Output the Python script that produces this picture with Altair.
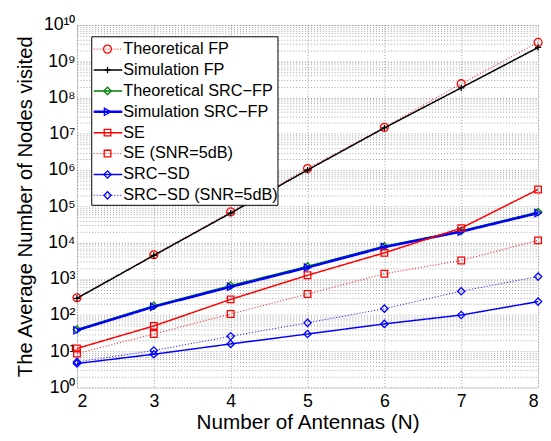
import altair as alt
import pandas as pd

N = [2, 3, 4, 5, 6, 7, 8]
theo_fp = [300, 4600, 70000, 1.1e6, 1.5e7, 2.4e8, 3.3e9]
sim_fp = [290, 4400, 65000, 1.0e6, 1.45e7, 1.85e8, 2.4e9]
theo_src_fp = [40, 180, 650, 2200, 7900, 2.1e4, 6.9e4]
sim_src_fp = [38, 170, 600, 2050, 7500, 2.0e4, 6.5e4]
se = [12, 50, 270, 1250, 5200, 2.5e4, 2.9e5]
se_5db = [8.7, 30, 107, 380, 1380, 3200, 1.15e4]
src_sd = [4.6, 8.3, 16, 30, 57, 100, 235]
src_sd_5db = [5.1, 10.5, 26, 61, 150, 455, 1150]

names = ["Theoretical FP", "Simulation FP", "Theoretical SRC\u2212FP",
         "Simulation SRC\u2212FP", "SE", "SE (SNR=5dB)", "SRC\u2212SD",
         "SRC\u2212SD (SNR=5dB)"]
series = [theo_fp, sim_fp, theo_src_fp, sim_src_fp, se, se_5db, src_sd, src_sd_5db]

PLUS = "M-1,0L1,0M0,-1L0,1"
styles = [
    dict(color="#ff0000", dash=[1, 2], width=1.0, shape="circle", size=65),
    dict(color="#000000", dash=[1, 0], width=1.5, shape=PLUS, size=40),
    dict(color="#008000", dash=[1, 0], width=1.5, shape="diamond", size=55),
    dict(color="#0000ff", dash=[1, 0], width=2.5, shape="triangle-right", size=55),
    dict(color="#ff0000", dash=[1, 0], width=1.5, shape="square", size=45),
    dict(color="#ff0000", dash=[1, 2], width=1.0, shape="square", size=45),
    dict(color="#0000ff", dash=[1, 0], width=1.5, shape="diamond", size=55),
    dict(color="#0000ff", dash=[1, 2], width=1.0, shape="diamond", size=55),
]

rows = []
for nm, vals in zip(names, series):
    for n, v in zip(N, vals):
        rows.append({"series": nm, "N": n, "value": v})
df = pd.DataFrame(rows)

FONT = "Liberation Sans"
sup = {"0": "\u2070", "1": "\u00b9", "2": "\u00b2", "3": "\u00b3", "4": "\u2074",
       "5": "\u2075", "6": "\u2076", "7": "\u2077", "8": "\u2078", "9": "\u2079"}
yvals = []
for k in range(10):
    for m in range(1, 10):
        yvals.append(m * 10 ** k)
yvals.append(10 ** 10)
expr = "''"
for k in range(10, -1, -1):
    s = "".join(sup[c] for c in str(k))
    expr = f"datum.value == {10 ** k} ? '10{s}' : ({expr})"

xenc = alt.X("N:Q", scale=alt.Scale(domain=[2, 8], nice=False),
             axis=alt.Axis(values=N, format="d", title="Number of Antennas (N)",
                           grid=True, gridColor="#888", gridDash=[1, 2], gridWidth=0.8,
                           ticks=False, domain=False, labelFontSize=18, labelPadding=5,
                           titleFontSize=21, titleFontWeight="normal", titlePadding=2,
                           labelColor="black", titleColor="black"))
yenc = alt.Y("value:Q", scale=alt.Scale(type="log", domain=[1, 1e10], nice=False),
             axis=alt.Axis(values=yvals, labelExpr=expr, title="The Average Number of Nodes visited",
                           grid=True, gridColor="#888", gridDash=[1, 2], gridWidth=0.8,
                           ticks=False, domain=False, labelFontSize=18, labelPadding=2,
                           titleFontSize=20.5, titleFontWeight="normal", titlePadding=8,
                           labelColor="black", titleColor="black", labelOverlap=False))

layers = []
for i, (nm, st) in enumerate(zip(names, styles)):
    base = alt.Chart(df).transform_filter(alt.datum.series == nm)
    enc_x = xenc if i == 0 else alt.X("N:Q")
    enc_y = yenc if i == 0 else alt.Y("value:Q")
    line = base.mark_line(color=st["color"], strokeDash=st["dash"],
                          strokeWidth=st["width"]).encode(x=enc_x, y=enc_y)
    pt = base.mark_point(shape=st["shape"], color=st["color"], filled=False,
                         size=st["size"], strokeWidth=1.3, opacity=1).encode(
        x=alt.X("N:Q"), y=alt.Y("value:Q"))
    layers += [line, pt]

# legend
leg_df = pd.DataFrame({"series": names, "idx": list(range(len(names)))})
box = alt.Chart(leg_df).transform_filter(alt.datum.idx == 0).mark_rect(
    fill="white", stroke="black", strokeWidth=1).encode(
    x=alt.value(15), x2=alt.value(204), y=alt.value(12), y2=alt.value(183))
leg_layers = [box]
for i, (nm, st) in enumerate(zip(names, styles)):
    b = alt.Chart(leg_df).transform_filter(alt.datum.idx == i).transform_calculate(
        ly="24.5 + datum.idx * 21.2")
    ly = alt.Y("ly:Q", scale=None, axis=None)
    leg_layers.append(b.mark_rule(color=st["color"], strokeDash=st["dash"],
                                  strokeWidth=st["width"]).encode(
        x=alt.value(17), x2=alt.value(46), y=ly))
    leg_layers.append(b.mark_point(shape=st["shape"], color=st["color"], filled=False,
                                   size=st["size"], strokeWidth=1.3, opacity=1).encode(
        x=alt.value(31), y=ly))
    leg_layers.append(b.mark_text(align="left", baseline="middle", fontSize=16.5,
                                  font=FONT, color="black").encode(
        x=alt.value(47), y=ly, text="series:N"))

chart = alt.layer(*layers, *leg_layers).properties(
    width=468, height=368,
    autosize=alt.AutoSizeParams(type="none"),
    padding={"left": 70, "top": 14, "right": 5, "bottom": 51},
).configure_view(stroke="black", strokeWidth=1).configure(font=FONT)

chart.save("out.html", embed_options={"renderer": "svg", "actions": False})
